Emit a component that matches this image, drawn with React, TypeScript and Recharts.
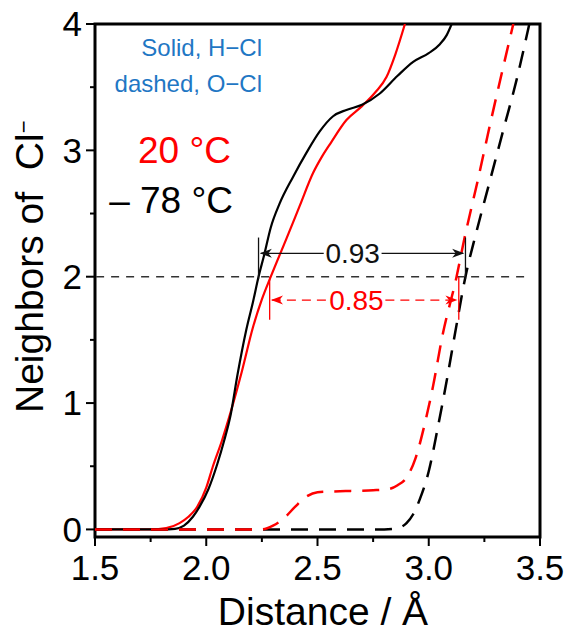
import React from "react";
import {
  LineChart, Line, XAxis, YAxis,
  ReferenceLine, ReferenceDot, ReferenceArea,
} from "recharts";

const FONT = "'Liberation Sans', Arial, Helvetica, sans-serif";
const RED = "#ff0000";
const BLUE = "#1f77c4";

// running coordination number of Cl- vs distance (Å)
// H–Cl, 20 °C
const r20H = [1.5, 1.75, 1.82, 1.88, 1.92, 1.96, 2.0, 2.03, 2.07, 2.11, 2.16, 2.21, 2.25, 2.29, 2.36, 2.42, 2.48, 2.52, 2.56, 2.63, 2.7, 2.76, 2.81, 2.85, 2.893];
const n20H = [0, 0, 0.01, 0.05, 0.1, 0.18, 0.33, 0.5, 0.7, 0.93, 1.25, 1.6, 1.82, 2.0, 2.3, 2.56, 2.82, 2.95, 3.06, 3.24, 3.35, 3.46, 3.58, 3.76, 4.0];
// H–Cl, -78 °C
const r78H = [1.5, 1.8, 1.86, 1.9, 1.94, 1.97, 2.01, 2.05, 2.08, 2.11, 2.14, 2.18, 2.21, 2.235, 2.26, 2.29, 2.33, 2.39, 2.45, 2.51, 2.57, 2.63, 2.7, 2.78, 2.86, 2.93, 3.0, 3.05, 3.08, 3.103];
const n78H = [0, 0, 0.005, 0.03, 0.1, 0.18, 0.32, 0.52, 0.7, 0.91, 1.22, 1.58, 1.8, 2.0, 2.17, 2.39, 2.58, 2.79, 2.98, 3.15, 3.27, 3.32, 3.36, 3.45, 3.59, 3.7, 3.77, 3.84, 3.91, 4.0];
// O–Cl, 20 °C
const r20O = [1.5, 2.25, 2.3, 2.35, 2.4, 2.45, 2.5, 2.56, 2.65, 2.75, 2.82, 2.86, 2.9, 2.94, 2.98, 3.02, 3.06, 3.125, 3.16, 3.22, 3.28, 3.34, 3.38];
const n20O = [0, 0, 0.03, 0.09, 0.18, 0.26, 0.295, 0.3, 0.305, 0.31, 0.32, 0.35, 0.41, 0.56, 0.82, 1.14, 1.52, 2.0, 2.3, 2.76, 3.24, 3.7, 4.0];
// O–Cl, -78 °C
const r78O = [1.5, 2.8, 2.86, 2.9, 2.93, 2.96, 3.0, 3.04, 3.08, 3.12, 3.165, 3.215, 3.275, 3.335, 3.395, 3.452];
const n78O = [0, 0, 0.01, 0.05, 0.12, 0.24, 0.46, 0.8, 1.17, 1.57, 2.0, 2.36, 2.76, 3.16, 3.56, 4.0];

const xTicks = [1.5, 1.75, 2, 2.25, 2.5, 2.75, 3, 3.25, 3.5];
const yTicks = [0, 0.5, 1, 1.5, 2, 2.5, 3, 3.5, 4];

// H–Cl to O–Cl separation at N = 2
const gap78 = { start: 2.235, width: 0.93, y: 2.185, labelAt: 2.658, label: "0.93" };
const gap20 = { start: 2.285, width: 0.85, y: 1.815, labelAt: 2.675, label: "0.85" };

const zip = (xs: number[], ys: number[]) => xs.map((x, i) => ({ x, n: ys[i] }));

const TICK = 9;
const MINOR = 5;
const X_GAP = 9;
const Y_GAP = 4;

const isMajor = (v: number, step: number) => Math.abs(v / step - Math.round(v / step)) < 1e-6;

const XTick = (props: any) => {
  const { x, y, payload } = props;
  const v = payload.value as number;
  const major = isMajor(v, 0.5);
  const axisY = y - TICK - X_GAP;
  return (
    <g>
      <line x1={x} x2={x} y1={axisY} y2={axisY + (major ? TICK : MINOR)} stroke="#000" strokeWidth={2} />
      {major && (
        <text x={x} y={y} dy="0.71em" textAnchor="middle" fontSize={35} fontFamily={FONT} fill="#000">
          {v.toFixed(1)}
        </text>
      )}
    </g>
  );
};

const YTick = (props: any) => {
  const { x, y, payload } = props;
  const v = payload.value as number;
  const major = isMajor(v, 1);
  const axisX = x + TICK + Y_GAP;
  return (
    <g>
      <line x1={axisX} x2={axisX - (major ? TICK : MINOR)} y1={y} y2={y} stroke="#000" strokeWidth={2} />
      {major && (
        <text x={x} y={y} dy="0.355em" textAnchor="end" fontSize={35} fontFamily={FONT} fill="#000">
          {v}
        </text>
      )}
    </g>
  );
};

// stealth arrow head, tip at (cx, cy); dir 1 = points right, -1 = points left
const arrowHead = (dir: number, color: string) => (p: any) => {
  const { cx, cy } = p;
  const L = 12, W = 4.5, notch = 3.5;
  const d = `M${cx},${cy} L${cx - dir * L},${cy - W} L${cx - dir * (L - notch)},${cy} L${cx - dir * L},${cy + W} Z`;
  return <path d={d} fill={color} />;
};

const gapLabel = (text: string, color: string) => (p: any) => (
  <text x={p.cx} y={p.cy} dy="0.36em" textAnchor="middle" fontSize={28} fontFamily={FONT} fill={color}>
    {text}
  </text>
);

function GapMarker(g: typeof gap78, color: string, dashed: boolean, tickFrom: number, tickTo: number) {
  const end = g.start + g.width;
  const dash = dashed ? "9 6" : undefined;
  return [
    <ReferenceLine key={g.label + "t1"} segment={[{ x: g.start, y: tickFrom }, { x: g.start, y: tickTo }]} stroke={color} strokeWidth={1.3} />,
    <ReferenceLine key={g.label + "t2"} segment={[{ x: end, y: tickFrom }, { x: end, y: tickTo }]} stroke={color} strokeWidth={1.3} />,
    <ReferenceLine key={g.label + "a1"} segment={[{ x: g.start + 0.01, y: g.y }, { x: g.labelAt - 0.13, y: g.y }]} stroke={color} strokeWidth={1.3} strokeDasharray={dash} />,
    <ReferenceLine key={g.label + "a2"} segment={[{ x: g.labelAt + 0.13, y: g.y }, { x: end - 0.01, y: g.y }]} stroke={color} strokeWidth={1.3} strokeDasharray={dash} />,
    <ReferenceDot key={g.label + "h1"} x={g.start + 0.006} y={g.y} r={0} shape={arrowHead(-1, color)} />,
    <ReferenceDot key={g.label + "h2"} x={end - 0.006} y={g.y} r={0} shape={arrowHead(1, color)} />,
    <ReferenceDot key={g.label + "lb"} x={g.labelAt} y={g.y} r={0} shape={gapLabel(g.label, color)} />,
  ];
}

export default function App() {
  return (
    <div style={{ position: "absolute", left: 0, top: 0, width: 569, height: 633, background: "#fff" }}>
      <LineChart width={569} height={633} margin={{ top: 24, right: 29, bottom: 0, left: 0 }}>
        <XAxis
          type="number" dataKey="x" domain={[1.5, 3.5]} ticks={xTicks} interval={0}
          allowDataOverflow axisLine={false} tickLine={false} tickSize={TICK} tickMargin={X_GAP}
          height={96} tick={<XTick />}
        />
        <YAxis
          type="number" dataKey="n" domain={[-0.06, 4]} ticks={yTicks} interval={0}
          allowDataOverflow axisLine={false} tickLine={false} tickSize={TICK} tickMargin={Y_GAP}
          width={95} tick={<YTick />}
        />
        <ReferenceLine segment={[{ x: 1.505, y: 2 }, { x: 3.46, y: 2 }]} stroke="#333" strokeWidth={1.4} strokeDasharray="8 7" />

        <Line data={zip(r20H, n20H)} dataKey="n" type="monotone" stroke={RED} strokeWidth={2.2} dot={false} isAnimationActive={false} />
        <Line data={zip(r78H, n78H)} dataKey="n" type="monotone" stroke="#000" strokeWidth={2.2} dot={false} isAnimationActive={false} />
        <Line data={zip(r78O, n78O)} dataKey="n" type="monotone" stroke="#000" strokeWidth={2.5} strokeDasharray="17 11" dot={false} isAnimationActive={false} />
        <Line data={zip(r20O, n20O)} dataKey="n" type="monotone" stroke={RED} strokeWidth={2.5} strokeDasharray="17 11" dot={false} isAnimationActive={false} />

        {GapMarker(gap78, "#111", false, 1.98, 2.31)}
        {GapMarker(gap20, RED, true, 1.66, 2.0)}

        <ReferenceArea x1={1.5} x2={3.5} y1={-0.06} y2={4} fill="none" fillOpacity={0} stroke="#000" strokeWidth={3} />
      </LineChart>

      <svg width={569} height={633} style={{ position: "absolute", left: 0, top: 0, pointerEvents: "none" }} fontFamily={FONT}>
        <text x={262} y={56} textAnchor="end" fontSize={24} fill={BLUE}>Solid, H−Cl</text>
        <text x={262} y={92} textAnchor="end" fontSize={24} fill={BLUE}>dashed, O−Cl</text>
        <text x={231} y={163} textAnchor="end" fontSize={37} fill={RED}>20 °C</text>
        <text x={233} y={213} textAnchor="end" fontSize={37} fill="#000">– 78 °C</text>
        <text x={43} y={413} transform="rotate(-90 43 413)" fontSize={39} fill="#000">
          {"Neighbors of\u00a0 Cl"}<tspan fontSize={22} dy={-12}>−</tspan>
        </text>
        <text x={323} y={625} textAnchor="middle" fontSize={39} fill="#000">Distance / Å</text>
      </svg>
    </div>
  );
}
